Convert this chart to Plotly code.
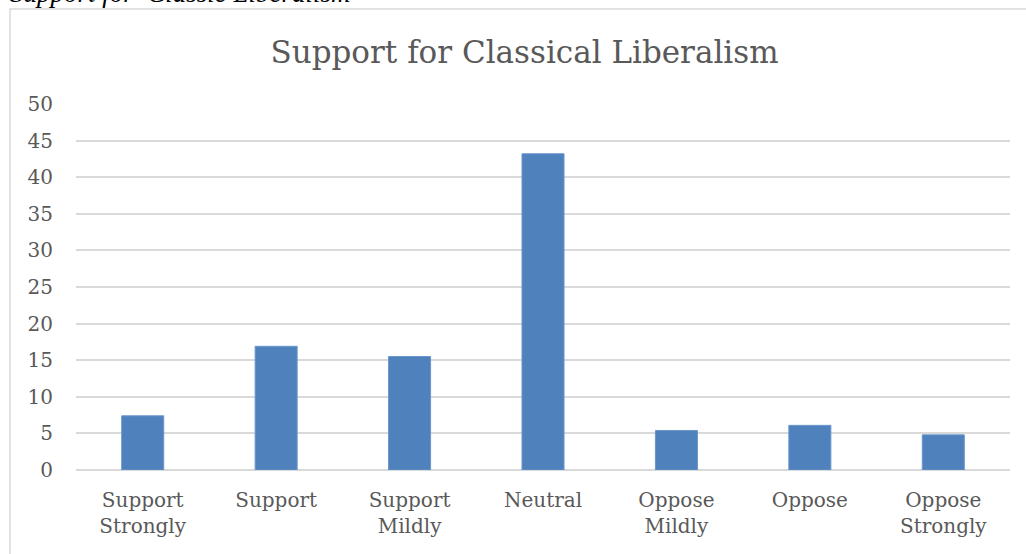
import plotly.graph_objects as go

categories = ["Support<br>Strongly", "Support", "Support<br>Mildly", "Neutral",
              "Oppose<br>Mildly", "Oppose", "Oppose<br>Strongly"]
values = [7.4, 16.9, 15.5, 43.2, 5.4, 6.1, 4.8]
y_ticks = [0, 5, 10, 15, 20, 25, 30, 35, 40, 45, 50]

W, H = 1026, 554
ML, MR, MT, MB = 76, 16, 104, 84
PW = W - ML - MR
PH = H - MT - MB

def px_x(p):
    return (p - ML) / PW

def px_y(p):
    return (H - MB - p) / PH

fig = go.Figure()
fig.add_trace(go.Bar(
    x=categories, y=values,
    marker=dict(color="#4f81bd", line=dict(color="#6b96cb", width=1)),
))

fig.update_layout(
    width=W, height=H,
    margin=dict(l=ML, r=MR, t=MT, b=MB),
    paper_bgcolor="white", plot_bgcolor="white",
    bargap=0.685,
    showlegend=False,
    font=dict(family="DejaVu Serif", color="#595959"),
    title=dict(text="Support for Classical Liberalism", x=524.5 / W, xanchor="center",
               y=1 - 52 / H, yanchor="middle",
               font=dict(family="DejaVu Serif", size=31, color="#595959")),
    xaxis=dict(showgrid=False, showline=False, zeroline=False,
               ticks="outside", ticklen=12, tickcolor="rgba(0,0,0,0)",
               tickfont=dict(size=20, color="#595959", family="DejaVu Serif")),
    yaxis=dict(range=[0, 50], tickvals=y_ticks, showgrid=True, gridcolor="#d9d9d9",
               gridwidth=1.5, zeroline=True, zerolinecolor="#d9d9d9", zerolinewidth=1.5,
               showline=False, ticks="outside", ticklen=18, tickcolor="rgba(0,0,0,0)",
               tickfont=dict(size=20, color="#595959", family="DejaVu Serif")),
    shapes=[dict(type="rect", xref="paper", yref="paper",
                 x0=px_x(10), x1=px_x(1034), y0=px_y(562), y1=px_y(9),
                 line=dict(color="#d9d9d9", width=1.5), fillcolor="rgba(0,0,0,0)",
                 layer="below")],
    annotations=[dict(text="<i>Support for  Classic Liberalism</i>", xref="paper", yref="paper",
                      x=px_x(8), xanchor="left", y=px_y(-7), yanchor="middle",
                      showarrow=False,
                      font=dict(family="Liberation Serif", size=27, color="#000000"))],
)

fig.write_html("out.html")
